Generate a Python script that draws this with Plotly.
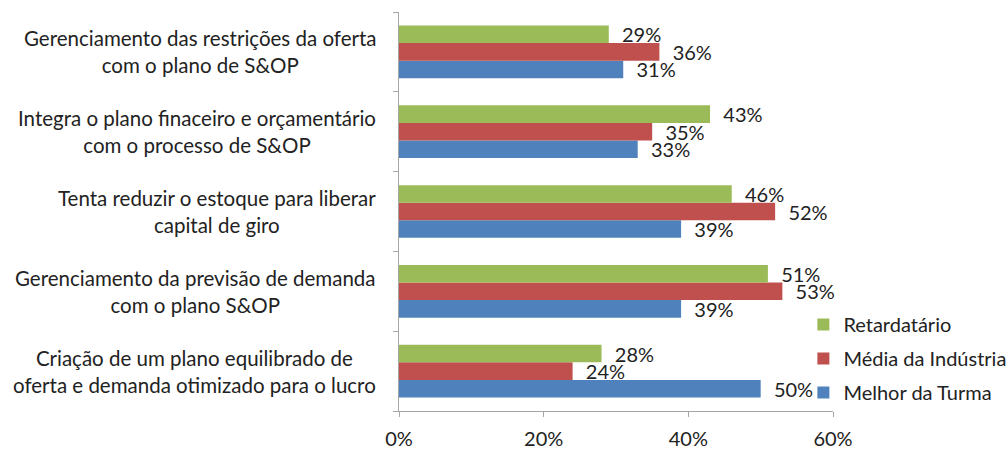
import plotly.graph_objects as go

# categories listed bottom -> top (plotly draws the first category at the bottom)
categories = [
    "Criação de um plano equilibrado de<br>oferta e demanda otimizado para o lucro",
    "Gerenciamento da previsão de demanda<br>com o plano S&OP",
    "Tenta reduzir o estoque para liberar<br>capital de giro",
    "Integra o plano finaceiro e orçamentário<br>com o processo de S&OP",
    "Gerenciamento das restrições da oferta<br>com o plano de S&OP",
]

melhor_turma = [0.50, 0.39, 0.39, 0.33, 0.31]
media_industria = [0.24, 0.53, 0.52, 0.35, 0.36]
retardatario = [0.28, 0.51, 0.46, 0.43, 0.29]

x_ticks = [0, 0.2, 0.4, 0.6]
x_tick_labels = ["0%", "20%", "40%", "60%"]

FONT = "Lato"
FSIZE = 20
TXT = "#222222"
GREEN = "#9BBB59"
RED = "#C0504D"
BLUE = "#4F81BD"

# (name, values, colour, legend rank)
series = [
    ("Melhor da Turma", melhor_turma, BLUE, 3),
    ("Média da Indústria", media_industria, RED, 2),
    ("Retardatário", retardatario, GREEN, 1),
]

fig = go.Figure()
for name, vals, color, rank in series:
    fig.add_trace(go.Bar(
        y=categories,
        x=vals,
        name=name,
        orientation="h",
        marker=dict(color=color, line=dict(width=0)),
        text=["\u00a0\u00a0" + f"{v:.0%}" for v in vals],
        textposition="outside",
        constraintext="none",
        textfont=dict(family=FONT, size=FSIZE, color=TXT),
        cliponaxis=False,
        legendgroup=name,
        legendrank=rank,
    ))

# category labels, centered line by line like the original
for cat in categories:
    fig.add_annotation(
        xref="paper", x=0, y=cat, yref="y",
        text=cat, showarrow=False,
        xanchor="right", align="center", xshift=-21,
        font=dict(family=FONT, size=20.5, color=TXT),
    )

fig.update_layout(
    width=1008,
    height=450,
    margin=dict(l=399, r=175, t=12, b=39, autoexpand=False),
    barmode="group",
    bargap=0.34,
    bargroupgap=0,
    plot_bgcolor="white",
    paper_bgcolor="white",
    font=dict(family=FONT, size=FSIZE, color=TXT),
    showlegend=True,
    legend=dict(
        xref="container", yref="container",
        x=0.797, y=0.322, xanchor="left", yanchor="top",
        traceorder="grouped",
        tracegroupgap=5,
        font=dict(family=FONT, size=FSIZE, color=TXT),
        bgcolor="rgba(0,0,0,0)",
    ),
    xaxis=dict(
        range=[0, 0.6],
        tickvals=x_ticks,
        ticktext=x_tick_labels,
        showgrid=False,
        zeroline=False,
        showline=True,
        linecolor="#A6A6A6",
        linewidth=1,
        ticks="outside",
        ticklen=5,
        tickcolor="#A6A6A6",
        ticklabelstandoff=5,
        automargin=False,
    ),
    yaxis=dict(
        showticklabels=False,
        showgrid=False,
        showline=True,
        linecolor="#A6A6A6",
        linewidth=1,
        ticks="outside",
        ticklen=5,
        tickcolor="#A6A6A6",
        tickson="boundaries",
        automargin=False,
    ),
)

# drop the default 8px body margin so the figure fills the window exactly
fig.write_html(
    "out.html",
    config={"displayModeBar": False},
    post_script="document.body.style.margin='0';",
)
